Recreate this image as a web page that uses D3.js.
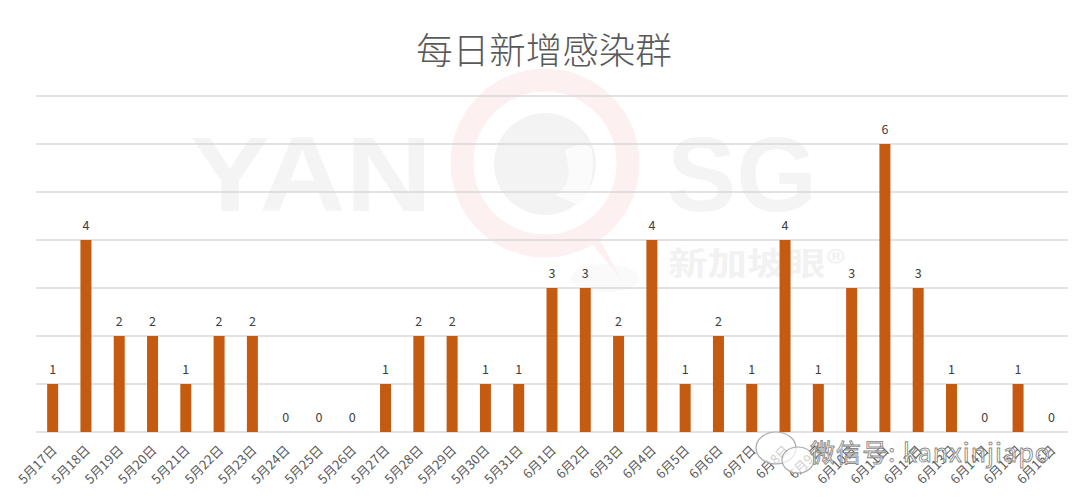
<!DOCTYPE html>
<html><head><meta charset="utf-8">
<script src="https://cdn.jsdelivr.net/npm/d3@7/dist/d3.min.js"></script>
<style>body{margin:0;background:#fff}svg{display:block}</style>
</head><body>
<svg id="c" width="1080" height="502"></svg>
<script>
const title = "每日新增感染群";
const categories = ["5月17日","5月18日","5月19日","5月20日","5月21日","5月22日","5月23日","5月24日","5月25日","5月26日","5月27日","5月28日","5月29日","5月30日","5月31日","6月1日","6月2日","6月3日","6月4日","6月5日","6月6日","6月7日","6月8日","6月9日","6月10日","6月11日","6月12日","6月13日","6月14日","6月15日","6月16日"];
const values = [1,4,2,2,1,2,2,0,0,0,1,2,2,1,1,3,3,2,4,1,2,1,4,1,3,6,3,1,0,1,0];
const gridTicks = [0,1,2,3,4,5,6,7];

const svg = d3.select("#c");
const W = 1080, H = 502;
const m = {left:36, right:12, top:96, bottom:70};
const x = d3.scaleBand().domain(categories).range([m.left, W - m.right]).paddingInner(0.67).paddingOuter(0.335);
const y = d3.scaleLinear().domain([0,7]).range([H - m.bottom, m.top]);
const font = "'Noto Sans CJK SC','Noto Sans',sans-serif";

// faint watermark (behind chart)
const wm = svg.append("g");
wm.append("ellipse").attr("cx",605).attr("cy",278).attr("rx",34).attr("ry",14).attr("fill","#fafafa");
wm.append("path").attr("d","M585,235 L622,281 L600,240 Z").attr("fill","#fdf0f0");
wm.append("circle").attr("cx",545).attr("cy",163).attr("r",83)
  .attr("fill","none").attr("stroke","#fdf0f0").attr("stroke-width",23);
wm.append("circle").attr("cx",545).attr("cy",164).attr("r",51).attr("fill","#f3f3f3");
wm.append("path").attr("d","M565,150 Q585,140 592,150 Q596,190 578,205 L555,195 Q572,185 568,165 Z").attr("fill","#fbfbfb");
wm.append("text").attr("x",190).attr("y",211).attr("font-family","'Liberation Sans',sans-serif")
  .attr("font-weight","bold").attr("font-size",106).attr("fill","#f4f4f4")
  .attr("textLength",242).attr("lengthAdjust","spacingAndGlyphs").text("YAN");
wm.append("text").attr("x",667).attr("y",211).attr("font-family","'Liberation Sans',sans-serif")
  .attr("font-weight","bold").attr("font-size",106).attr("fill","#f4f4f4")
  .attr("textLength",150).attr("lengthAdjust","spacingAndGlyphs").text("SG");
wm.append("text").attr("x",668).attr("y",275).attr("font-family",font)
  .attr("font-weight","bold").attr("font-size",32).attr("fill","#f2f2f2")
  .attr("textLength",178).attr("lengthAdjust","spacingAndGlyphs").text("新加坡眼®");

// gridlines
svg.append("g").selectAll("line").data(gridTicks).join("line")
  .attr("x1", m.left).attr("x2", W - m.right)
  .attr("y1", d => y(d)).attr("y2", d => y(d))
  .attr("stroke", "#d9d9d9").attr("stroke-width", 1.3);

// bars
svg.append("g").selectAll("rect").data(values).join("rect")
  .attr("x", (d,i) => x(categories[i]))
  .attr("width", x.bandwidth())
  .attr("y", d => y(d))
  .attr("height", d => y(0) - y(d))
  .attr("fill", "#C55A11");

// value labels
svg.append("g").selectAll("text").data(values).join("text")
  .attr("x", (d,i) => x(categories[i]) + x.bandwidth()/2)
  .attr("y", d => y(d) - 10)
  .attr("text-anchor","middle")
  .attr("font-family", font).attr("font-size", 12.5).attr("fill","#404040")
  .text(d => d);

// x axis labels
const xAxis = d3.axisBottom(x).tickSize(0).tickPadding(0);
const gx = svg.append("g").attr("transform", `translate(0,${y(0)})`).call(xAxis);
gx.select(".domain").remove();
gx.selectAll("text")
  .attr("font-family", font).attr("font-size", 13).attr("fill","#595959")
  .attr("text-anchor","end").attr("dy", null).attr("y", 0)
  .attr("transform","translate(5,19) rotate(-45)");

// title
svg.append("text").attr("x", 544).attr("y", 64).attr("text-anchor","middle")
  .attr("font-family", font).attr("font-weight", 300).attr("font-size", 36.5).attr("fill","#595959").text(title);

// wechat watermark
const wc = svg.append("g");
wc.append("ellipse").attr("cx",776).attr("cy",448).attr("rx",20).attr("ry",16).attr("fill","#fff").attr("fill-opacity",0.7).attr("stroke","#aaa").attr("stroke-width",1.2);
wc.append("ellipse").attr("cx",798).attr("cy",460).attr("rx",16).attr("ry",13).attr("fill","#fff").attr("fill-opacity",0.7).attr("stroke","#aaa").attr("stroke-width",1.2);
wc.append("text").attr("x",810).attr("y",462).attr("font-family",font).attr("font-size",25)
  .attr("fill","#ffffff").attr("fill-opacity",0.55).attr("stroke","#8a8a8a").attr("stroke-width",0.9)
  .attr("textLength",240).attr("lengthAdjust","spacing")
  .text("微信号: kanxinjiapo");
</script>
</body></html>
